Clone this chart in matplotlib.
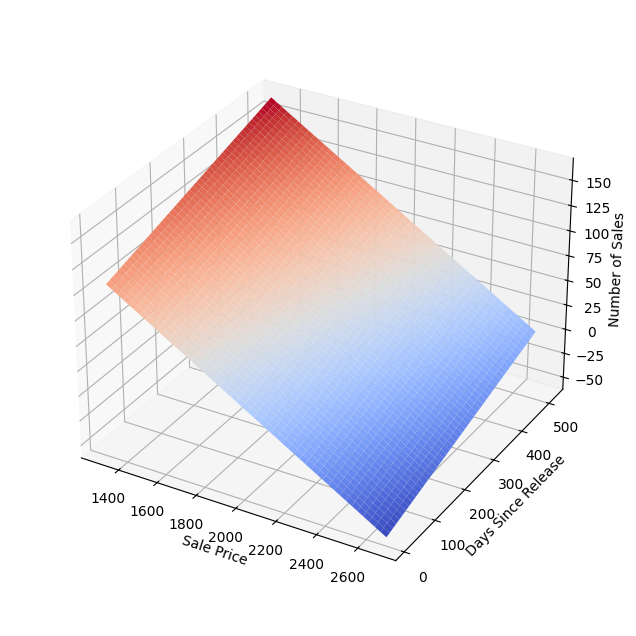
import numpy as np
import matplotlib
matplotlib.use("Agg")
import matplotlib.pyplot as plt

price_range = [1305, 2682]
days_range = [10, 515]
corner_z = {"low_price_new": 107.0, "high_price_new": -58.0, "low_price_old": 167.0, "high_price_old": 2.0}
grid_size = 50

price_slope = (corner_z["high_price_new"] - corner_z["low_price_new"]) / (price_range[1] - price_range[0])
days_slope = (corner_z["low_price_old"] - corner_z["low_price_new"]) / (days_range[1] - days_range[0])

prices = np.linspace(price_range[0], price_range[1], grid_size)
days = np.linspace(days_range[0], days_range[1], grid_size)
X, Y = np.meshgrid(prices, days)
Z = corner_z["low_price_new"] + price_slope * (X - price_range[0]) + days_slope * (Y - days_range[0])

fig = plt.figure(figsize=(6.36, 6.36), dpi=100)
ax = fig.add_axes([0.0615, 0.063, 0.88, 0.88], projection="3d")
ax.plot_surface(X, Y, Z, cmap="coolwarm")
ax.set_xlabel("Sale Price", labelpad=1)
ax.set_ylabel("Days Since Release", labelpad=1)
ax.set_zlabel("Number of Sales", labelpad=1)
fig.savefig("out.png", dpi=100)
